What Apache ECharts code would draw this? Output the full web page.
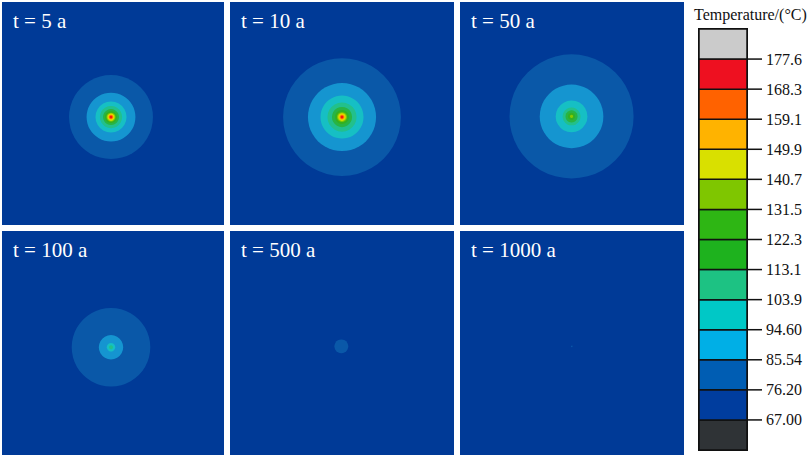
<!DOCTYPE html>
<html><head><meta charset="utf-8">
<script src="https://cdn.jsdelivr.net/npm/echarts@6/dist/echarts.min.js"></script>
<style>html,body{margin:0;padding:0;background:#fff}#c{width:809px;height:457px}</style>
</head><body><div id="c"></div>
<script>
// ---------- data ----------
const panelLabels = ['t = 5 a', 't = 10 a', 't = 50 a', 't = 100 a', 't = 500 a', 't = 1000 a'];
// contour centre in panel data units (0-100 each way)
const centerX = [49.1, 50.0, 49.8, 49.1, 49.7, 49.9];
const centerY = [48.4, 48.4, 48.7, 48.1, 48.5, 48.5];
// outer radius of each isotherm band, starting with the 76.20–85.54 band
const rings5a    = [18.9, 11.0, 7.0, 5.0, 3.6, 2.7, 2.0, 1.6, 1.2, 0.9, 0.5];
const rings10a   = [26.3, 15.2, 9.6, 6.5, 4.5, 3.1, 2.2, 1.7, 1.25, 0.9, 0.5];
const rings50a   = [27.7, 14.2, 7.1, 4.0, 2.7, 1.6, 0.7];
const rings100a  = [17.7, 5.5, 1.9, 0.9];
const rings500a  = [3.1];
const rings1000a = [0.35];
const legendTitle = 'Temperature/(°C)';
const legendTicks = ['67.00', '76.20', '85.54', '94.60', '103.9', '113.1', '122.3', '131.5', '140.7', '149.9', '159.1', '168.3', '177.6'];

// ---------- style ----------
const bandColors = ['#2f3336', '#003d9e', '#005db3', '#00afe6', '#00c8c6', '#1dc283', '#1eb21e',
  '#2eb614', '#7fc600', '#d9e000', '#ffb300', '#ff6200', '#ee1020', '#cbcbcb'];
const panelColors = ['#2f3336', '#003a97', '#0a58a8', '#1595d0', '#16bfc4', '#22c08c', '#28b444',
  '#34b020', '#86c800', '#dde000', '#ffb000', '#ff6000', '#ee1111', '#cbcbcb'];
const serif = 'Liberation Serif, Times New Roman, serif';
const boxes = [
  {left: 2, top: 2, width: 222, height: 223},
  {left: 230, top: 2, width: 224, height: 223},
  {left: 460, top: 2, width: 224, height: 223},
  {left: 2, top: 231, width: 222, height: 224},
  {left: 230, top: 231, width: 224, height: 224},
  {left: 460, top: 231, width: 224, height: 224}
];
const labelPos = [[13, 10], [241, 10], [471, 10], [13, 239], [241, 239], [471, 239]];
const allRings = [rings5a, rings10a, rings50a, rings100a, rings500a, rings1000a];

const grids = [], xAxes = [], yAxes = [], series = [], titles = [];
boxes.forEach((b, i) => {
  grids.push(Object.assign({show: true, backgroundColor: panelColors[1], borderWidth: 0}, b));
  xAxes.push({type: 'value', gridIndex: i, min: 0, max: 100, show: false});
  yAxes.push({type: 'value', gridIndex: i, min: 0, max: 100, show: false});
  series.push({
    type: 'custom', xAxisIndex: i, yAxisIndex: i, silent: true,
    data: allRings[i].map((r, j) => [centerX[i], centerY[i], r, j + 2]),
    renderItem: function (params, api) {
      const c = api.coord([api.value(0), api.value(1)]);
      const r = api.size([api.value(2), 0])[0];
      return {type: 'circle', shape: {cx: c[0], cy: c[1], r: r},
        style: {fill: panelColors[api.value(3)]}};
    }
  });
  titles.push({text: panelLabels[i], left: labelPos[i][0], top: labelPos[i][1], padding: 0,
    textStyle: {color: '#fff', fontFamily: serif, fontSize: 21, fontWeight: 'normal'}});
});

// legend colour bar
grids.push({show: true, left: 699, top: 29, width: 48, height: 421, borderColor: '#111', borderWidth: 2, backgroundColor: 'transparent'});
xAxes.push({type: 'value', gridIndex: 6, min: 0, max: 1, show: false});
const tickVals = legendTicks.map((t, k) => k + 1);
yAxes.push({
  type: 'value', gridIndex: 6, min: 0, max: 14, interval: 1, position: 'right',
  axisLine: {show: false}, splitLine: {show: false}, axisTick: {show: false},
  axisLabel: {show: true, customValues: tickVals, margin: 19, color: '#111', fontSize: 16, fontFamily: serif,
    formatter: v => legendTicks[Math.round(v) - 1] || ''}
});
series.push({
  type: 'custom', xAxisIndex: 6, yAxisIndex: 6, silent: true, clip: false,
  data: bandColors.map((c, k) => [k]),
  renderItem: function (params, api) {
    const k = api.value(0);
    const p0 = api.coord([0, k]);
    const p1 = api.coord([1, k + 1]);
    const children = [{type: 'rect', shape: {x: p0[0], y: p1[1], width: p1[0] - p0[0], height: p0[1] - p1[1]},
      style: {fill: bandColors[k], stroke: '#111', lineWidth: 1.5}}];
    if (k >= 1 && k <= legendTicks.length) {
      children.push({type: 'line', shape: {x1: p1[0], y1: p0[1], x2: p1[0] + 15, y2: p0[1]},
        style: {stroke: '#111', lineWidth: 1.5}});
    }
    return {type: 'group', children: children};
  }
});
titles.push({text: legendTitle, left: 694, top: 6, padding: 0,
  textStyle: {color: '#111', fontFamily: serif, fontSize: 16, fontWeight: 'normal'}});

const chart = echarts.init(document.getElementById('c'), null, {renderer: 'svg'});
chart.setOption({animation: false, backgroundColor: '#fff', title: titles, grid: grids,
  xAxis: xAxes, yAxis: yAxes, series: series});
</script></body></html>
